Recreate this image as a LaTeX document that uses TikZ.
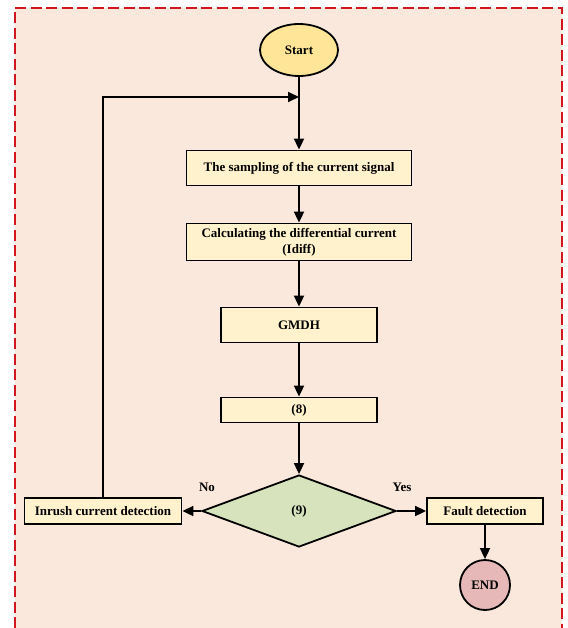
\documentclass[tikz,border=0pt]{standalone}
\usepackage{fontspec}
\setmainfont{Liberation Serif}
\usetikzlibrary{arrows.meta, shapes.geometric}

\definecolor{bgpeach}{HTML}{FBE8DC}
\definecolor{framered}{HTML}{D2161E}
\definecolor{startyellow}{HTML}{FFE597}
\definecolor{boxcream}{HTML}{FFF2CC}
\definecolor{testgreen}{HTML}{D6E3BC}
\definecolor{endpink}{HTML}{E6B8B7}

\tikzset{
    flowbox/.style={rectangle, draw, line width=1.8pt, fill=boxcream, align=center},
    flowline/.style={line width=1.8pt, -{Triangle[length=11pt,width=10pt]}}
}

\begin{document}
\begin{tikzpicture}[x=1pt, y=-1pt, font=\bfseries\fontsize{13}{16}\selectfont]
\useasboundingbox (0,0) rectangle (567,628);
% background frame, open at the bottom
\fill[bgpeach] (15,8) rectangle (562,628);
\draw[framered, line width=1.5pt, dash pattern=on 11pt off 4.5pt] (15,628) -- (15,8) -- (562,8) -- (562,628);

\begin{scope}[every node/.style={flowbox}]
    \node[ellipse, fill=startyellow, minimum width=78pt, minimum height=52pt] (start) at (299,50) {Start};
    \node[minimum width=225pt, minimum height=35pt] (samp) at (299,168) {The sampling of the current signal};
    \node[minimum width=225pt, minimum height=37pt, inner sep=1pt] (idiff) at (299,242) {Calculating the differential current\\(Idiff)};
    \node[minimum width=156pt, minimum height=35pt] (gmdh) at (299,325) {GMDH};
    \node[minimum width=156pt, minimum height=25pt] (eq8) at (299,410) {(8)};
    \node[diamond, fill=testgreen, minimum width=194pt, minimum height=72pt, inner sep=0pt] (eq9) at (299,511) {(9)};
    \node[minimum width=157pt, minimum height=26pt] (inrush) at (103,511) {Inrush current detection};
    \node[minimum width=116pt, minimum height=26pt] (fault) at (485,511) {Fault detection};
    \node[circle, fill=endpink, minimum size=50pt, inner sep=0pt] (end) at (485,585) {END};
\end{scope}

\coordinate (merge) at (299,97);
\node (no) at (207,487) {No};
\node (yes) at (402,487) {Yes};

\draw[flowline] (start) -- (samp);
\draw[flowline] (inrush.north) |- (merge);
\draw[flowline] (samp) -- (idiff);
\draw[flowline] (idiff) -- (gmdh);
\draw[flowline] (gmdh) -- (eq8);
\draw[flowline] (eq8) -- (eq9);
\draw[flowline] (eq9) -- (inrush);
\draw[flowline] (eq9) -- (fault);
\draw[flowline] (fault) -- (end);
\end{tikzpicture}
\end{document}
